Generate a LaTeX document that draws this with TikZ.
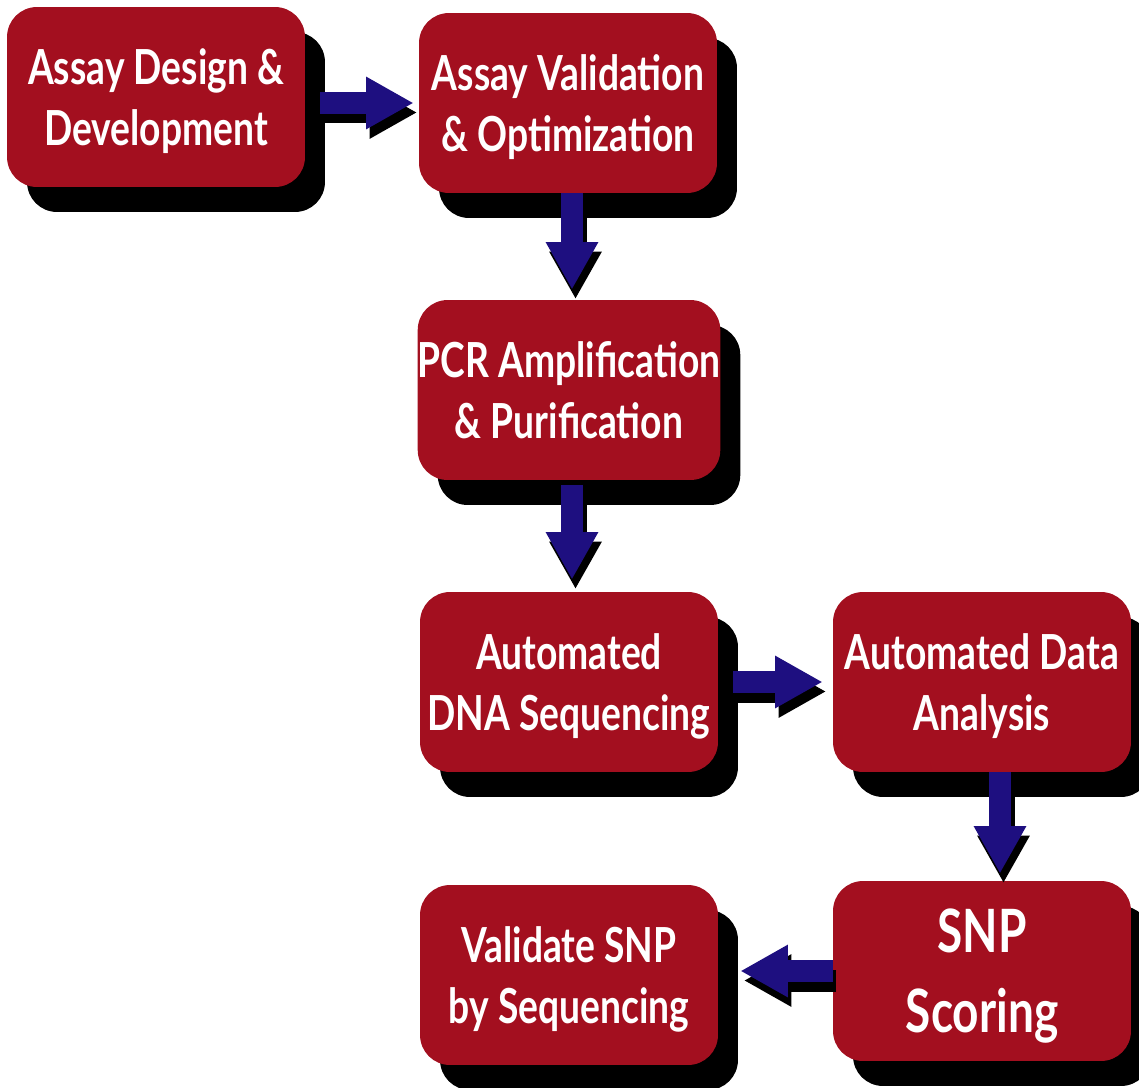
\documentclass[tikz,border=0pt]{standalone}
\usepackage{fontspec}
\setmainfont{Lato}[FakeStretch=0.77]
\usepackage{xcolor}
\usepackage{tikz}
\usetikzlibrary{positioning,arrows.meta,shadows}

\definecolor{boxred}{HTML}{A30F1F}
\definecolor{arrownavy}{HTML}{1E0F80}

\begin{document}
\begin{tikzpicture}[x=0.02cm,y=-0.02cm,
  stage/.style={rectangle, rounded corners=0.6cm, fill=boxred, text=white,
    minimum width=5.96cm, minimum height=3.6cm, align=center, inner sep=0pt,
    text depth=0pt, font=\bfseries\fontsize{27.5}{34.5}\selectfont,
    drop shadow={shadow xshift=0.4cm, shadow yshift=-0.5cm, opacity=1, fill=black}},
  flow/.style={arrownavy, line width=0.44cm, -{Triangle[length=0.95cm,width=0.98cm]}},
  flowshadow/.style={flow, black, transform canvas={shift={(0.07cm,-0.19cm)}}}]

\useasboundingbox (0,0) rectangle (1139,1088);

% Stages
\node[stage] (design) at (156,97) {Assay Design \&\\Development};
\node[stage] (valid) at (568,103) {Assay Validation\\\& Optimization};
\node[stage] (pcr) at (569,390) {PCR Amplification\\\& Purification};
\node[stage] (dna) at (569,682) {Automated\\DNA Sequencing};
\node[stage] (data) at (982,682) {Automated Data\\Analysis};
\node[stage, font=\bfseries\fontsize{34}{45.5}\selectfont] (snp) at (982,971) {SNP\\Scoring};
\node[stage] (valsnp) at (569,975) {Validate SNP\\by Sequencing};

% Arrow shadows
\draw[flowshadow] ([xshift=0.3cm]design.east |- valid.west) -- ([xshift=-0.1cm]valid.west);
\draw[flowshadow] ([xshift=0.08cm]valid.south) -- ([xshift=0.08cm,yshift=0.2cm]valid.south |- pcr.north);
\draw[flowshadow] ([xshift=0.06cm,yshift=-0.1cm]pcr.south) -- ([xshift=0.06cm,yshift=0.24cm]dna.north);
\draw[flowshadow] ([xshift=0.3cm]dna.east) -- ([xshift=-0.2cm]data.west);
\draw[flowshadow] ([xshift=0.36cm]data.south) -- ([xshift=0.36cm,yshift=0.14cm]snp.north);
\draw[flowshadow] (snp.west) -- ([xshift=0.44cm]valsnp.east |- snp.west);

% Arrows
\draw[flow] ([xshift=0.3cm]design.east |- valid.west) -- ([xshift=-0.1cm]valid.west);
\draw[flow] ([xshift=0.08cm]valid.south) -- ([xshift=0.08cm,yshift=0.2cm]valid.south |- pcr.north);
\draw[flow] ([xshift=0.06cm,yshift=-0.1cm]pcr.south) -- ([xshift=0.06cm,yshift=0.24cm]dna.north);
\draw[flow] ([xshift=0.3cm]dna.east) -- ([xshift=-0.2cm]data.west);
\draw[flow] ([xshift=0.36cm]data.south) -- ([xshift=0.36cm,yshift=0.14cm]snp.north);
\draw[flow] (snp.west) -- ([xshift=0.44cm]valsnp.east |- snp.west);

\end{tikzpicture}
\end{document}
